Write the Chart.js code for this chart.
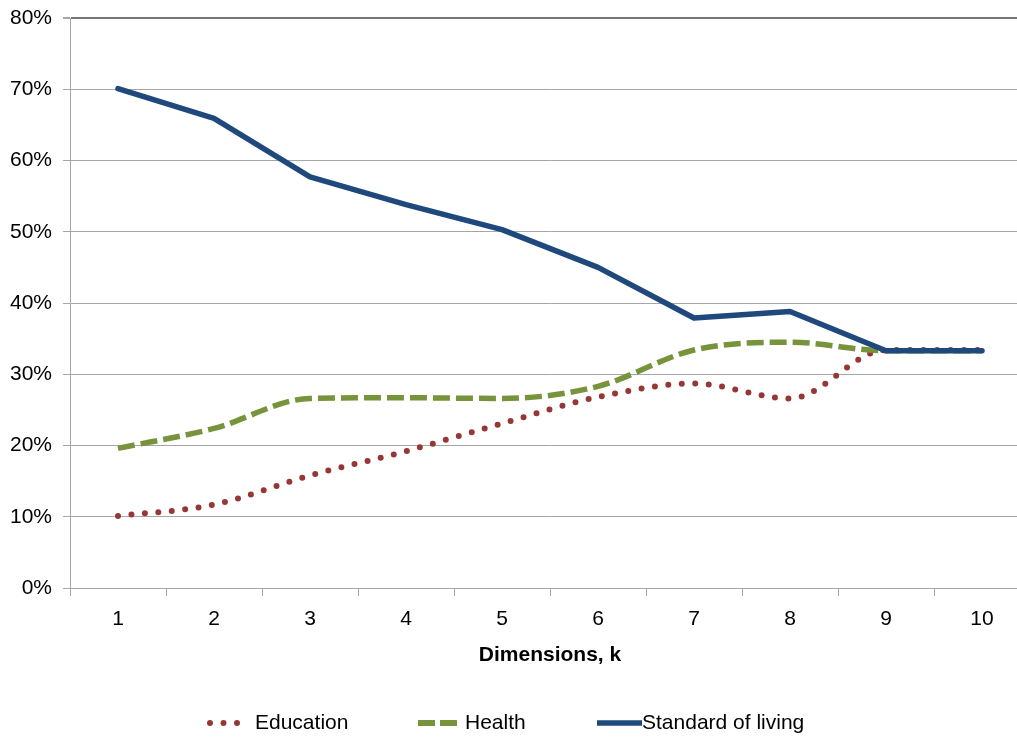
<!DOCTYPE html>
<html>
<head>
<meta charset="utf-8">
<title>Share by dimension</title>
<script src="https://cdn.jsdelivr.net/npm/chart.js@4.4.1/dist/chart.umd.min.js"></script>
<style>
  html, body { margin: 0; padding: 0; background: #fff; overflow: hidden; }
  #wrap { position: relative; width: 1040px; height: 738px; }
</style>
</head>
<body>
<div id="wrap"><canvas id="chart"></canvas></div>
<script>
// Dimensions k = 1..10
const categories = ['1', '2', '3', '4', '5', '6', '7', '8', '9', '10'];

// Shares in percent
const education = [10.1, 11.7, 15.8, 19.2, 23.1, 26.8, 28.7, 26.6, 33.4, 33.4];
const health = [19.6, 22.4, 26.6, 26.7, 26.6, 28.3, 33.4, 34.5, 33.3, 33.3];
const standardOfLiving = [70.1, 65.9, 57.7, 53.8, 50.3, 45.0, 37.9, 38.8, 33.3, 33.3];

// Y axis tick values (percent)
const yTicks = [0, 10, 20, 30, 40, 50, 60, 70, 80];

const FONT = '"Liberation Sans", Arial, sans-serif';
const colors = { education: '#953735', health: '#77933c', standard: '#1f497d' };

const legendItems = [
  { text: 'Education', color: colors.education, dash: [0, 13.5], cap: 'round', width: 6, x0: 210, x1: 240, tx: 255 },
  { text: 'Health', color: colors.health, dash: [17, 5], cap: 'butt', width: 6, x0: 418, x1: 459, tx: 465 },
  { text: 'Standard of living', color: colors.standard, dash: [], cap: 'butt', width: 5.5, x0: 597, x1: 642, tx: 642 }
];

const bottomLegend = {
  id: 'bottomLegend',
  afterDraw(chart) {
    const ctx = chart.ctx;
    const y = 723;
    ctx.save();
    legendItems.forEach(it => {
      ctx.beginPath();
      ctx.strokeStyle = it.color;
      ctx.lineWidth = it.width;
      ctx.lineCap = it.cap;
      ctx.setLineDash(it.dash);
      ctx.moveTo(it.x0, y);
      ctx.lineTo(it.x1, y);
      ctx.stroke();
      ctx.setLineDash([]);
      ctx.fillStyle = '#000';
      ctx.font = '21px ' + FONT;
      ctx.textBaseline = 'middle';
      ctx.textAlign = 'left';
      ctx.fillText(it.text, it.tx, y);
    });
    ctx.restore();
  }
};

const whiteBg = {
  id: 'whiteBg',
  beforeDraw(chart) {
    const ctx = chart.ctx;
    ctx.save();
    ctx.fillStyle = '#fff';
    ctx.fillRect(0, 0, chart.width, chart.height);
    ctx.restore();
  }
};

new Chart(document.getElementById('chart'), {
  type: 'line',
  data: {
    labels: categories,
    datasets: [
      {
        label: 'Education',
        data: education,
        borderColor: colors.education,
        borderWidth: 6,
        borderDash: [0, 13.5],
        borderCapStyle: 'round',
        borderJoinStyle: 'round',
        cubicInterpolationMode: 'monotone',
        pointRadius: 0,
        order: 2
      },
      {
        label: 'Health',
        data: health,
        borderColor: colors.health,
        borderWidth: 5.5,
        borderDash: [17, 6],
        borderCapStyle: 'butt',
        borderJoinStyle: 'round',
        cubicInterpolationMode: 'monotone',
        pointRadius: 0,
        order: 1
      },
      {
        label: 'Standard of living',
        data: standardOfLiving,
        borderColor: colors.standard,
        borderWidth: 5.5,
        borderCapStyle: 'round',
        borderJoinStyle: 'round',
        tension: 0,
        pointRadius: 0,
        order: 0
      }
    ]
  },
  options: {
    responsive: true,
    maintainAspectRatio: false,
    animation: false,
    layout: { padding: { top: 18, right: 10, bottom: 70, left: 0 } },
    plugins: {
      legend: { display: false },
      tooltip: { enabled: false }
    },
    scales: {
      x: {
        offset: true,
        grid: {
          offset: true,
          drawOnChartArea: false,
          drawTicks: true,
          tickLength: 8,
          tickColor: '#a6a6a6'
        },
        border: { display: true, color: '#a6a6a6', width: 1 },
        ticks: {
          color: '#000',
          font: { family: FONT, size: 21 },
          padding: 11,
          maxRotation: 0
        },
        title: {
          display: true,
          text: 'Dimensions, k',
          color: '#000',
          font: { family: FONT, size: 21, weight: 'bold' },
          padding: { top: 0, bottom: 0 }
        },
        afterFit(scale) {
          scale.height = 80;
          scale.paddingLeft = 0;
          scale.paddingRight = 0;
        }
      },
      y: {
        min: yTicks[0],
        max: yTicks[yTicks.length - 1],
        afterBuildTicks(scale) { scale.ticks = yTicks.map(v => ({ value: v })); },
        grid: {
          color: ctx => (ctx.tick && ctx.tick.value === 80 ? '#767676' : '#a6a6a6'),
          lineWidth: ctx => (ctx.tick && ctx.tick.value === 80 ? 2 : 1),
          drawTicks: true,
          tickLength: 7,
          tickColor: '#a6a6a6'
        },
        border: { display: true, color: '#a6a6a6', width: 1 },
        ticks: {
          color: '#000',
          font: { family: FONT, size: 21 },
          padding: 11,
          callback: v => v + '%'
        },
        afterFit(scale) {
          scale.width = 70;
          scale.paddingTop = 0;
          scale.paddingBottom = 0;
        }
      }
    }
  },
  plugins: [whiteBg, bottomLegend]
});
</script>
</body>
</html>
